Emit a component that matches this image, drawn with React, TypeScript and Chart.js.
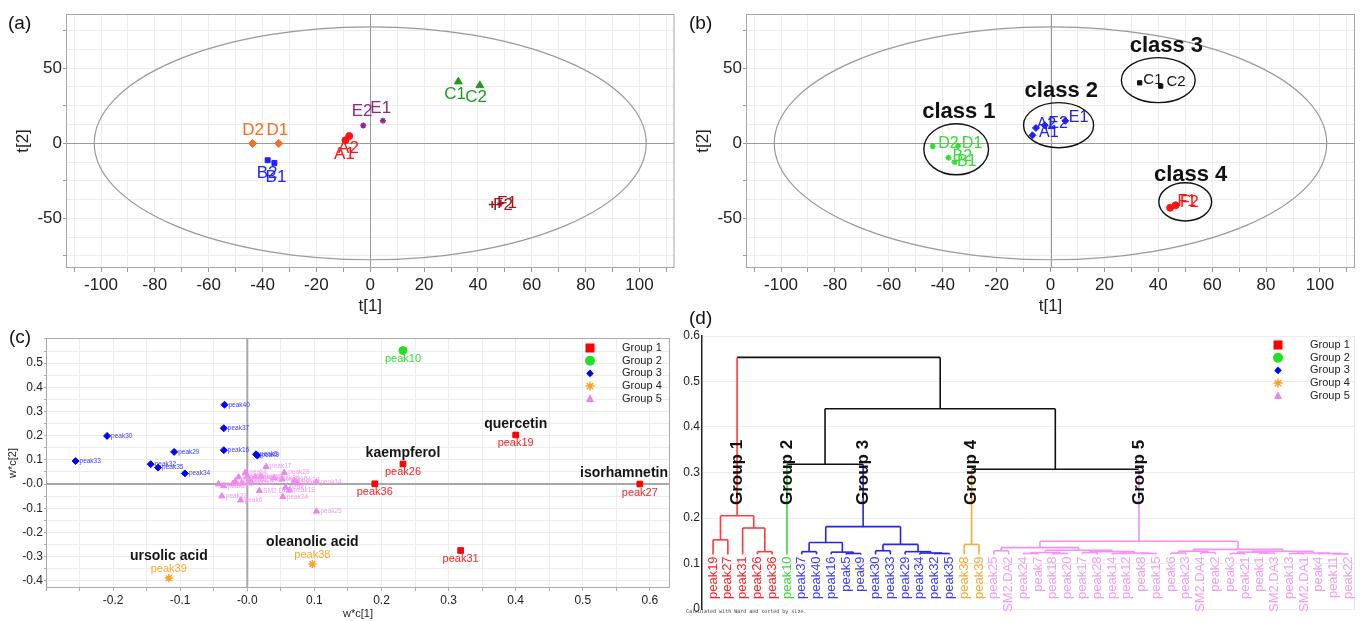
import React, { useEffect, useRef } from 'react';
import { Chart, registerables } from 'chart.js';

Chart.register(...registerables);

const FONT = '"Liberation Sans", Arial, Helvetica, sans-serif';

/* ---------------- (a) PCA scores ---------------- */
const A_NAMES = ['A1', 'A2', 'B1', 'B2', 'C1', 'C2', 'D1', 'D2', 'E1', 'E2', 'F1', 'F2'];
const A_T1 = [-9.2, -7.8, -35.6, -38.1, 32.7, 40.7, -34.0, -43.7, 4.7, -2.6, 48.5, 45.3];
const A_T2 = [2.0, 4.8, -13.1, -11.3, 41.0, 38.5, -0.1, -0.1, 15.0, 11.8, -40.0, -40.7];
const A_LABEL_T1 = [-9.6, -8.1, -35.0, -38.3, 31.5, 39.3, -34.5, -43.5, 3.9, -3.0, 50.8, 49.3];
const A_LABEL_T2 = [-7.3, -3.1, -22.4, -20.2, 32.4, 30.4, 8.7, 8.7, 23.5, 21.0, -40.0, -41.2];

/* ---------------- (b) PCA scores with classes ---------------- */
const B_NAMES = ['D2', 'D1', 'B2', 'B1', 'A1', 'A2', 'E2', 'E1', 'C1', 'C2', 'F1', 'F2'];
const B_CLASS = [1, 1, 1, 1, 2, 2, 2, 2, 3, 3, 4, 4];
const B_T1 = [-43.7, -34.3, -37.9, -35.6, -6.7, -5.4, -2.1, 5.5, 33.1, 40.9, 44.4, 46.4];
const B_T2 = [-2.0, -1.8, -9.6, -12.5, 5.3, 10.2, 12.0, 14.9, 40.2, 38.0, -42.9, -41.3];
const B_LABEL_T1 = [-37.9, -29.1, -32.7, -31.1, -0.6, -1.5, 2.8, 10.4, 38.0, 46.6, 50.6, 51.5];
const B_LABEL_T2 = [-0.5, -0.5, -9.0, -12.2, 7.0, 12.5, 13.0, 17.1, 42.0, 40.9, -38.5, -39.8];
const CLASS_NAMES = ['class 1', 'class 2', 'class 3', 'class 4'];
const CLASS_CENTER_T1 = [-35, 3, 40, 50];
const CLASS_CENTER_T2 = [-4, 12, 42, -39];
const CLASS_RADIUS_T1 = [12, 13, 13.7, 9.8];
const CLASS_RADIUS_T2 = [17, 15, 15, 12.7];
const CLASS_LABEL_T1 = [-34, 4, 43, 52];
const CLASS_LABEL_T2 = [21, 35, 65, -21];

const SCORE_T1_TICKS = [-100, -80, -60, -40, -20, 0, 20, 40, 60, 80, 100];
const SCORE_T2_TICKS = [-50, 0, 50];
const ELLIPSE_T1 = 102.5;
const ELLIPSE_T2 = 77.5;

/* ---------------- (c) loadings ---------------- */
const G1_NAMES = ['peak19', 'peak26', 'peak36', 'peak27', 'peak31'];
const G1_X = [0.40, 0.232, 0.19, 0.585, 0.318];
const G1_Y = [0.203, 0.083, 0.001, 0.0, -0.275];
const G2_NAMES = ['peak10'];
const G2_X = [0.232];
const G2_Y = [0.552];
const G3_NAMES = ['peak40', 'peak37', 'peak16', 'peak9', 'peak5', 'peak30', 'peak29', 'peak33', 'peak32', 'peak35', 'peak34'];
const G3_X = [-0.034, -0.035, -0.035, 0.015, 0.013, -0.209, -0.109, -0.256, -0.144, -0.133, -0.093];
const G3_Y = [0.328, 0.231, 0.14, 0.118, 0.123, 0.199, 0.133, 0.095, 0.082, 0.068, 0.044];
const G4_NAMES = ['peak39', 'peak38'];
const G4_X = [-0.117, 0.097];
const G4_Y = [-0.389, -0.331];
const G5_NAMES = ['peak17', 'peak28', 'peak4', 'peak12', 'peak1', 'peak21', 'peak3', 'peak15', 'peak13', 'peak14', 'peak11', 'peak22', 'peak2', 'SM2.DA3', 'SM2.DA1', 'peak7', 'peak18', 'peak24', 'peak23', 'peak6', 'peak25', 'SM2.DA2', 'peak20', 'SM2.DA4', 'peak8'];
const G5_X = [0.028, 0.055, -0.003, -0.013, 0.0, 0.012, 0.02, 0.052, 0.07, 0.103, -0.043, -0.035, -0.022, -0.008, 0.018, 0.057, 0.063, 0.053, -0.038, -0.01, 0.103, 0.005, 0.04, -0.018, 0.075];
const G5_Y = [0.072, 0.047, 0.047, 0.029, 0.032, 0.029, 0.03, 0.02, 0.015, 0.008, 0.0, -0.008, 0.0, 0.004, -0.028, -0.014, -0.025, -0.053, -0.05, -0.067, -0.113, 0.014, 0.026, 0.012, 0.004];
const COMPOUND_NAMES = ['quercetin', 'kaempferol', 'isorhamnetin', 'oleanolic acid', 'ursolic acid'];
const COMPOUND_PEAKS = ['peak19', 'peak26', 'peak27', 'peak38', 'peak39'];
const C_X_TICKS = [-0.2, -0.1, 0, 0.1, 0.2, 0.3, 0.4, 0.5, 0.6];
const C_Y_TICKS = [-0.4, -0.3, -0.2, -0.1, 0, 0.1, 0.2, 0.3, 0.4, 0.5];

/* ---------------- (d) dendrogram ---------------- */
const LEAVES = ['peak19', 'peak27', 'peak31', 'peak26', 'peak36', 'peak10', 'peak37', 'peak40', 'peak16', 'peak5', 'peak9', 'peak30', 'peak33', 'peak29', 'peak34', 'peak32', 'peak35', 'peak38', 'peak39', 'peak25', 'SM2.DA2', 'peak24', 'peak7', 'peak18', 'peak20', 'peak17', 'peak28', 'peak14', 'peak12', 'peak8', 'peak15', 'peak6', 'peak23', 'SM2.DA4', 'peak2', 'peak3', 'peak21', 'peak1', 'SM2.DA3', 'peak13', 'SM2.DA1', 'peak4', 'peak11', 'peak22'];
const LEAF_GROUPS = [1, 1, 1, 1, 1, 2, 3, 3, 3, 3, 3, 3, 3, 3, 3, 3, 3, 4, 4, 5, 5, 5, 5, 5, 5, 5, 5, 5, 5, 5, 5, 5, 5, 5, 5, 5, 5, 5, 5, 5, 5, 5, 5, 5];
const LEAF_HEIGHT = 0.12;
// [child a, child b, height]; children < 44 are leaves, otherwise 44 + merge index
const MERGES: [number, number, number][] = [
  [0, 1, 0.152], [3, 4, 0.126], [2, 45, 0.178], [44, 46, 0.205],
  [6, 7, 0.126], [9, 10, 0.122], [8, 49, 0.125], [48, 50, 0.146],
  [11, 12, 0.128], [15, 16, 0.122], [14, 53, 0.123], [13, 54, 0.126], [52, 55, 0.142], [51, 56, 0.181],
  [17, 18, 0.142],
  [19, 20, 0.128], [21, 22, 0.122], [23, 24, 0.122], [60, 61, 0.124], [25, 26, 0.124], [27, 28, 0.122],
  [29, 30, 0.122], [64, 65, 0.123], [63, 66, 0.126], [62, 67, 0.129], [59, 68, 0.135],
  [31, 32, 0.123], [33, 34, 0.124], [70, 71, 0.127], [35, 36, 0.122], [37, 38, 0.123], [73, 74, 0.125],
  [42, 43, 0.121], [41, 76, 0.122], [39, 40, 0.122], [78, 77, 0.123], [75, 79, 0.127], [72, 80, 0.131],
  [69, 81, 0.149],
  [5, 57, 0.318], [58, 82, 0.307], [83, 84, 0.44], [47, 85, 0.553],
];
const D_Y_TICKS = [0, 0.1, 0.2, 0.3, 0.4, 0.5, 0.6];
const GROUP_NAMES = ['Group 1', 'Group 2', 'Group 3', 'Group 4', 'Group 5'];

/* ---------------- styles ---------------- */
const A_STYLE: Record<string, { color: string; shape: string; r: number }> = {
  A: { color: '#ff1414', shape: 'circle', r: 3.5 },
  B: { color: '#2222ff', shape: 'rect', r: 3.5 },
  C: { color: '#1f9a1f', shape: 'triangle', r: 4.5 },
  D: { color: '#ff6a1f', shape: 'rectRot', r: 4 },
  E: { color: '#93278f', shape: 'star', r: 3 },
  F: { color: '#a3161b', shape: 'cross', r: 3.5 },
};
const CLASS_STYLE = [
  { color: '#33dd33', shape: 'star', r: 3 },
  { color: '#2020ff', shape: 'rectRot', r: 3.5 },
  { color: '#111111', shape: 'rect', r: 3 },
  { color: '#ff1414', shape: 'circle', r: 3.5 },
];
const GROUP_STYLE = [
  { color: '#ff0000', shape: 'rect', r: 4, text: '#ff2020', line: '#ff3a3a' },
  { color: '#22e022', shape: 'circle', r: 4, text: '#33dd33', line: '#33dd33' },
  { color: '#0000ff', shape: 'rectRot', r: 3.5, text: '#3a3aff', line: '#2424ee' },
  { color: '#ffa020', shape: 'star', r: 4, text: '#ffa62b', line: '#ffab33' },
  { color: '#ee82ee', shape: 'triangle', r: 3.5, text: '#f29cf2', line: '#f590f5' },
];

/* ---------------- helpers ---------------- */
const gridValues = (from: number, to: number, step: number) => {
  const out: number[] = [];
  const n = Math.round((to - from) / step);
  for (let i = 0; i <= n; i++) out.push(Math.round((from + i * step) * 10000) / 10000);
  return out;
};
const hasLabel = (labels: number[], v: number) => labels.some((l) => Math.abs(l - v) < 1e-6);

function drawMarker(ctx: CanvasRenderingContext2D, shape: string, x: number, y: number, s: number, color: string) {
  ctx.save();
  ctx.fillStyle = color;
  ctx.strokeStyle = color;
  ctx.beginPath();
  if (shape === 'rect') {
    ctx.fillRect(x - s, y - s, 2 * s, 2 * s);
  } else if (shape === 'circle') {
    ctx.arc(x, y, s, 0, Math.PI * 2);
    ctx.fill();
  } else if (shape === 'rectRot') {
    ctx.moveTo(x, y - s);
    ctx.lineTo(x + s, y);
    ctx.lineTo(x, y + s);
    ctx.lineTo(x - s, y);
    ctx.closePath();
    ctx.fill();
  } else if (shape === 'star') {
    ctx.lineWidth = 1.5;
    for (let k = 0; k < 4; k++) {
      const a = (k * Math.PI) / 4;
      ctx.moveTo(x + Math.cos(a) * s, y + Math.sin(a) * s);
      ctx.lineTo(x - Math.cos(a) * s, y - Math.sin(a) * s);
    }
    ctx.stroke();
  } else if (shape === 'triangle') {
    ctx.moveTo(x, y - s);
    ctx.lineTo(x + s * 0.9, y + s * 0.7);
    ctx.lineTo(x - s * 0.9, y + s * 0.7);
    ctx.closePath();
    ctx.fill();
  }
  ctx.restore();
}

const baseOptions = (padding: any) => ({
  responsive: false,
  animation: false,
  events: [],
  layout: { padding },
  plugins: { legend: { display: false }, tooltip: { enabled: false } },
});

function scoreScales() {
  const tickFont = { family: FONT, size: 17 };
  return {
    x: {
      type: 'linear',
      min: -113,
      max: 113,
      afterBuildTicks: (s: any) => { s.ticks = gridValues(-110, 110, 10).map((value) => ({ value })); },
      afterFit: (s: any) => { s.height = 52; },
      grid: { color: '#ececec', lineWidth: 1, drawTicks: true, tickLength: 4, tickColor: '#999' },
      border: { display: false },
      ticks: {
        autoSkip: false, maxRotation: 0, padding: 3, color: '#222', font: tickFont,
        callback: (v: number) => (hasLabel(SCORE_T1_TICKS, v) ? String(v) : ''),
      },
      title: { display: true, text: 't[1]', color: '#222', font: tickFont, padding: { top: 0, bottom: 3 } },
    },
    y: {
      type: 'linear',
      min: -83,
      max: 86,
      afterBuildTicks: (s: any) => { s.ticks = gridValues(-75, 75, 12.5).map((value) => ({ value })); },
      afterFit: (s: any) => { s.width = 66; },
      grid: {
        color: '#ececec', lineWidth: 1, drawTicks: true, tickLength: 3,
        tickColor: (c: any) => (c.tick && Math.abs(c.tick.value % 25) < 1e-6 ? '#999' : 'rgba(0,0,0,0)'),
      },
      border: { display: false },
      ticks: {
        autoSkip: false, padding: 1, color: '#222', font: tickFont,
        callback: (v: number) => (hasLabel(SCORE_T2_TICKS, v) ? String(v) : ''),
      },
      title: { display: true, text: 't[2]', color: '#222', font: tickFont, padding: { top: 13, bottom: 0 } },
    },
  };
}

const scoreFramePlugin = {
  id: 'scoreFrame',
  beforeDatasetsDraw(chart: any) {
    const { ctx, chartArea: ca, scales } = chart;
    const x = scales.x;
    const y = scales.y;
    const x0 = x.getPixelForValue(0);
    const y0 = y.getPixelForValue(0);
    ctx.save();
    ctx.strokeStyle = '#9a9a9a';
    ctx.lineWidth = 1;
    ctx.beginPath();
    ctx.moveTo(Math.round(x0) + 0.5, ca.top);
    ctx.lineTo(Math.round(x0) + 0.5, ca.bottom);
    ctx.moveTo(ca.left, Math.round(y0) + 0.5);
    ctx.lineTo(ca.right, Math.round(y0) + 0.5);
    ctx.stroke();
    ctx.strokeStyle = '#999';
    ctx.lineWidth = 1.2;
    ctx.beginPath();
    ctx.ellipse(x0, y0, Math.abs(x.getPixelForValue(ELLIPSE_T1) - x0), Math.abs(y.getPixelForValue(ELLIPSE_T2) - y0), 0, 0, Math.PI * 2);
    ctx.stroke();
    ctx.strokeStyle = '#a5a5a5';
    ctx.lineWidth = 1;
    ctx.strokeRect(ca.left + 0.5, ca.top + 0.5, ca.width - 1, ca.height - 1);
    ctx.restore();
  },
};

function textLabelPlugin(id: string, names: string[], lx: number[], ly: number[], colorOf: (i: number) => string, fontOf: (i: number) => string) {
  return {
    id,
    afterDatasetsDraw(chart: any) {
      const { ctx, scales } = chart;
      ctx.save();
      ctx.textAlign = 'center';
      ctx.textBaseline = 'middle';
      names.forEach((n, i) => {
        ctx.font = fontOf(i);
        ctx.fillStyle = colorOf(i);
        ctx.fillText(n, scales.x.getPixelForValue(lx[i]), scales.y.getPixelForValue(ly[i]));
      });
      ctx.restore();
    },
  };
}

/* ---------------- configs ---------------- */
function configA(): any {
  const letters = ['A', 'B', 'C', 'D', 'E', 'F'];
  return {
    type: 'scatter',
    data: {
      datasets: letters.map((g) => {
        const idx = A_NAMES.map((n, i) => (n[0] === g ? i : -1)).filter((i) => i >= 0);
        const st = A_STYLE[g];
        return {
          label: g,
          data: idx.map((i) => ({ x: A_T1[i], y: A_T2[i] })),
          pointStyle: st.shape,
          pointRadius: st.r,
          backgroundColor: st.color,
          borderColor: st.color,
          borderWidth: st.shape === 'star' || st.shape === 'cross' ? 1.5 : 1,
        };
      }),
    },
    options: { ...baseOptions({ left: 0, right: 5, top: 14, bottom: 0 }), scales: scoreScales() },
    plugins: [
      scoreFramePlugin,
      textLabelPlugin('aLabels', A_NAMES, A_LABEL_T1, A_LABEL_T2, (i) => A_STYLE[A_NAMES[i][0]].color, () => `17px ${FONT}`),
    ],
  };
}

function configB(): any {
  const classPlugin = {
    id: 'classes',
    afterDatasetsDraw(chart: any) {
      const { ctx, scales } = chart;
      const x = scales.x;
      const y = scales.y;
      ctx.save();
      ctx.strokeStyle = '#111';
      ctx.lineWidth = 1.4;
      CLASS_NAMES.forEach((name, k) => {
        const cx = x.getPixelForValue(CLASS_CENTER_T1[k]);
        const cy = y.getPixelForValue(CLASS_CENTER_T2[k]);
        const rx = Math.abs(x.getPixelForValue(CLASS_CENTER_T1[k] + CLASS_RADIUS_T1[k]) - cx);
        const ry = Math.abs(y.getPixelForValue(CLASS_CENTER_T2[k] + CLASS_RADIUS_T2[k]) - cy);
        ctx.beginPath();
        ctx.ellipse(cx, cy, rx, ry, 0, 0, Math.PI * 2);
        ctx.stroke();
        ctx.font = `bold 22px ${FONT}`;
        ctx.fillStyle = '#111';
        ctx.textAlign = 'center';
        ctx.textBaseline = 'middle';
        ctx.fillText(name, x.getPixelForValue(CLASS_LABEL_T1[k]), y.getPixelForValue(CLASS_LABEL_T2[k]));
      });
      ctx.restore();
    },
  };
  return {
    type: 'scatter',
    data: {
      datasets: [1, 2, 3, 4].map((c) => {
        const idx = B_CLASS.map((k, i) => (k === c ? i : -1)).filter((i) => i >= 0);
        const st = CLASS_STYLE[c - 1];
        return {
          label: CLASS_NAMES[c - 1],
          data: idx.map((i) => ({ x: B_T1[i], y: B_T2[i] })),
          pointStyle: st.shape,
          pointRadius: st.r,
          backgroundColor: st.color,
          borderColor: st.color,
          borderWidth: st.shape === 'star' ? 1.5 : 1,
        };
      }),
    },
    options: { ...baseOptions({ left: 0, right: 7, top: 14, bottom: 0 }), scales: scoreScales() },
    plugins: [
      scoreFramePlugin,
      textLabelPlugin('bLabels', B_NAMES, B_LABEL_T1, B_LABEL_T2, (i) => CLASS_STYLE[B_CLASS[i] - 1].color,
        (i) => (B_CLASS[i] === 3 ? `15px ${FONT}` : `16px ${FONT}`)),
      classPlugin,
    ],
  };
}

const C_GROUPS = [
  { names: G1_NAMES, xs: G1_X, ys: G1_Y },
  { names: G2_NAMES, xs: G2_X, ys: G2_Y },
  { names: G3_NAMES, xs: G3_X, ys: G3_Y },
  { names: G4_NAMES, xs: G4_X, ys: G4_Y },
  { names: G5_NAMES, xs: G5_X, ys: G5_Y },
];

function drawLegend(ctx: CanvasRenderingContext2D, markerX: number, textX: number, top: number, gap: number) {
  ctx.save();
  ctx.font = `11px ${FONT}`;
  ctx.fillStyle = '#222';
  ctx.textAlign = 'left';
  ctx.textBaseline = 'middle';
  GROUP_NAMES.forEach((name, k) => {
    const yy = top + k * gap;
    const st = GROUP_STYLE[k];
    const size = k === 0 ? 4.5 : k === 1 ? 5 : k === 2 ? 3.8 : 4.5;
    drawMarker(ctx, st.shape, markerX, yy, size, st.color);
    ctx.fillText(name, textX, yy);
  });
  ctx.restore();
}

function configC(): any {
  const decoPlugin = {
    id: 'cDeco',
    beforeDatasetsDraw(chart: any) {
      const { ctx, chartArea: ca, scales } = chart;
      const x0 = scales.x.getPixelForValue(0);
      const y0 = scales.y.getPixelForValue(0);
      ctx.save();
      ctx.strokeStyle = '#a8a8a8';
      ctx.lineWidth = 2;
      ctx.beginPath();
      ctx.moveTo(x0, ca.top);
      ctx.lineTo(x0, ca.bottom);
      ctx.moveTo(ca.left, y0);
      ctx.lineTo(ca.right, y0);
      ctx.stroke();
      ctx.strokeStyle = '#aaa';
      ctx.lineWidth = 1;
      ctx.strokeRect(ca.left + 0.5, ca.top + 0.5, ca.width - 1, ca.height - 1);
      ctx.restore();
    },
    afterDatasetsDraw(chart: any) {
      const { ctx, chartArea: ca, scales } = chart;
      const px = (v: number) => scales.x.getPixelForValue(v);
      const py = (v: number) => scales.y.getPixelForValue(v);
      ctx.save();
      // small labels (groups 3 and 5)
      ctx.font = `6.5px ${FONT}`;
      ctx.textAlign = 'left';
      ctx.textBaseline = 'middle';
      [2, 4].forEach((g) => {
        const G = C_GROUPS[g];
        ctx.fillStyle = GROUP_STYLE[g].text;
        G.names.forEach((n, i) => ctx.fillText(n, px(G.xs[i]) + 4, py(G.ys[i])));
      });
      // big peak labels
      ctx.font = `11px ${FONT}`;
      ctx.textAlign = 'center';
      const peakPos: Record<string, { x: number; y: number; g: number }> = {};
      [0, 1, 3].forEach((g) => {
        const G = C_GROUPS[g];
        ctx.fillStyle = GROUP_STYLE[g].text;
        G.names.forEach((n, i) => {
          const X = px(G.xs[i]);
          const Y = py(G.ys[i]);
          peakPos[n] = { x: X, y: Y, g };
          if (g === 3) {
            ctx.textBaseline = 'bottom';
            ctx.fillText(n, X, Y - 4);
          } else {
            ctx.textBaseline = 'top';
            ctx.fillText(n, X, Y + 3);
          }
        });
      });
      // compound names
      ctx.font = `bold 14px ${FONT}`;
      ctx.fillStyle = '#151515';
      ctx.textBaseline = 'bottom';
      COMPOUND_NAMES.forEach((name, k) => {
        const p = peakPos[COMPOUND_PEAKS[k]];
        if (!p) return;
        const w = ctx.measureText(name).width;
        let cx = p.x;
        if (cx + w / 2 > ca.right - 2) cx = ca.right - 2 - w / 2;
        ctx.fillText(name, cx, p.g === 3 ? p.y - 15 : p.y - 4);
      });
      ctx.restore();
      drawLegend(ctx, ca.right - 80, ca.right - 48, ca.top + 10, 12.7);
    },
  };
  const tickFont = { family: FONT, size: 12 };
  return {
    type: 'scatter',
    data: {
      datasets: C_GROUPS.map((G, g) => {
        const st = GROUP_STYLE[g];
        return {
          label: GROUP_NAMES[g],
          data: G.names.map((_, i) => ({ x: G.xs[i], y: G.ys[i] })),
          pointStyle: st.shape,
          pointRadius: st.r,
          backgroundColor: st.color,
          borderColor: st.color,
          borderWidth: st.shape === 'star' ? 1.5 : 1,
        };
      }),
    },
    options: {
      ...baseOptions({ left: 0, right: 10, top: 18, bottom: 0 }),
      scales: {
        x: {
          type: 'linear', min: -0.3, max: 0.63,
          afterBuildTicks: (s: any) => { s.ticks = gridValues(-0.3, 0.6, 0.05).map((value) => ({ value })); },
          afterFit: (s: any) => { s.height = 33; },
          grid: { color: '#ececec', tickLength: 3, tickColor: '#aaa' },
          border: { display: false },
          ticks: {
            autoSkip: false, maxRotation: 0, padding: 2, color: '#222', font: tickFont,
            callback: (v: number) => (hasLabel(C_X_TICKS, v) ? (Math.abs(v) < 1e-9 ? '-0.0' : v.toFixed(1)) : ''),
          },
          title: { display: true, text: 'w*c[1]', color: '#222', font: { family: FONT, size: 11 }, padding: { top: 0, bottom: 0 } },
        },
        y: {
          type: 'linear', min: -0.43, max: 0.604,
          afterBuildTicks: (s: any) => { s.ticks = gridValues(-0.4, 0.6, 0.05).map((value) => ({ value })); },
          afterFit: (s: any) => { s.width = 46; },
          grid: { color: '#ececec', tickLength: 2, tickColor: '#aaa' },
          border: { display: false },
          ticks: {
            autoSkip: false, padding: 1, color: '#222', font: tickFont,
            callback: (v: number) => (hasLabel(C_Y_TICKS, v) ? (Math.abs(v) < 1e-9 ? '-0.0' : v.toFixed(1)) : ''),
          },
          title: { display: true, text: 'w*c[2]', color: '#222', font: { family: FONT, size: 11 }, padding: { top: 6, bottom: 0 } },
        },
      },
    },
    plugins: [decoPlugin],
  };
}

function configD(): any {
  const N = LEAVES.length;
  const nodeX: number[] = LEAVES.map((_, i) => i);
  const nodeH: number[] = LEAVES.map(() => LEAF_HEIGHT);
  const nodeG: number[] = LEAF_GROUPS.slice();
  MERGES.forEach(([a, b, h]) => {
    nodeX.push((nodeX[a] + nodeX[b]) / 2);
    nodeH.push(h);
    nodeG.push(nodeG[a] === nodeG[b] ? nodeG[a] : 0);
  });
  const colorOf = (id: number) => (nodeG[id] ? GROUP_STYLE[nodeG[id] - 1].line : '#111');
  const segments: any[] = [];
  MERGES.forEach(([a, b, h], k) => {
    const id = N + k;
    segments.push({ pts: [{ x: nodeX[a], y: nodeH[a] }, { x: nodeX[a], y: h }], color: colorOf(a) });
    segments.push({ pts: [{ x: nodeX[b], y: nodeH[b] }, { x: nodeX[b], y: h }], color: colorOf(b) });
    segments.push({ pts: [{ x: nodeX[a], y: h }, { x: nodeX[b], y: h }], color: colorOf(id) });
  });
  // stem of each group = highest node belonging to it
  const groupStem = [1, 2, 3, 4, 5].map((g) => {
    let best = -1;
    nodeG.forEach((ng, id) => { if (ng === g && (best < 0 || nodeH[id] > nodeH[best])) best = id; });
    return nodeX[best];
  });

  const textPlugin = {
    id: 'dText',
    beforeDatasetsDraw(chart: any) {
      const { ctx, chartArea: ca } = chart;
      ctx.save();
      ctx.strokeStyle = '#e2e2e2';
      ctx.lineWidth = 1;
      ctx.beginPath();
      ctx.moveTo(ca.right - 0.5, ca.top);
      ctx.lineTo(ca.right - 0.5, ca.bottom);
      ctx.stroke();
      ctx.restore();
    },
    afterDatasetsDraw(chart: any) {
      const { ctx, chartArea: ca, scales } = chart;
      const px = (v: number) => scales.x.getPixelForValue(v);
      const py = (v: number) => scales.y.getPixelForValue(v);
      ctx.save();
      ctx.font = `13px ${FONT}`;
      ctx.textAlign = 'right';
      ctx.textBaseline = 'middle';
      LEAVES.forEach((n, i) => {
        ctx.save();
        ctx.translate(px(i), py(LEAF_HEIGHT) + 2);
        ctx.rotate(-Math.PI / 2);
        ctx.fillStyle = GROUP_STYLE[LEAF_GROUPS[i] - 1].text;
        ctx.fillText(n, 0, 0);
        ctx.restore();
      });
      ctx.font = `bold 17px ${FONT}`;
      ctx.textAlign = 'center';
      ctx.fillStyle = '#111';
      GROUP_NAMES.forEach((n, k) => {
        ctx.save();
        ctx.translate(px(groupStem[k]), py(0.3));
        ctx.rotate(-Math.PI / 2);
        ctx.fillText(n, 0, 0);
        ctx.restore();
      });
      ctx.font = '5px "DejaVu Sans Mono", monospace';
      ctx.textAlign = 'left';
      ctx.fillStyle = '#333';
      ctx.fillText('Calculated with Ward and sorted by size.', 6, ca.bottom + 3);
      ctx.restore();
      drawLegend(ctx, ca.right - 77, ca.right - 45, ca.top + 9, 12.7);
    },
  };

  return {
    type: 'scatter',
    data: {
      datasets: segments.map((s) => ({
        data: s.pts,
        showLine: true,
        pointRadius: 0,
        borderColor: s.color,
        borderWidth: 1.6,
        fill: false,
      })),
    },
    options: {
      ...baseOptions({ left: 0, right: 7, top: 16, bottom: 12 }),
      scales: {
        x: { type: 'linear', min: -0.75, max: 43.45, display: false },
        y: {
          type: 'linear', min: 0, max: 0.6,
          afterBuildTicks: (s: any) => { s.ticks = D_Y_TICKS.map((value) => ({ value })); },
          afterFit: (s: any) => { s.width = 22; },
          grid: { color: '#ededed', drawTicks: false },
          border: { display: true, color: '#222', width: 1.5 },
          ticks: {
            autoSkip: false, padding: 2, color: '#222', font: { family: FONT, size: 12 },
            callback: (v: number) => (Math.abs(v) < 1e-9 ? '0' : v.toFixed(1)),
          },
        },
      },
    },
    plugins: [textPlugin],
  };
}

const panelLabel = (text: string, left: number, top: number) => (
  <div style={{ position: 'absolute', left, top, font: `19px ${FONT}`, lineHeight: '22px', color: '#111' }}>{text}</div>
);

export default function App() {
  const refA = useRef<HTMLCanvasElement>(null);
  const refB = useRef<HTMLCanvasElement>(null);
  const refC = useRef<HTMLCanvasElement>(null);
  const refD = useRef<HTMLCanvasElement>(null);

  useEffect(() => {
    const charts = [
      new Chart(refA.current as HTMLCanvasElement, configA()),
      new Chart(refB.current as HTMLCanvasElement, configB()),
      new Chart(refC.current as HTMLCanvasElement, configC()),
      new Chart(refD.current as HTMLCanvasElement, configD()),
    ];
    return () => charts.forEach((c) => c.destroy());
  }, []);

  return (
    <div style={{ position: 'absolute', left: 0, top: 0, width: 1362, height: 621, background: '#fff', overflow: 'hidden' }}>
      <canvas ref={refA} width={680} height={320} style={{ position: 'absolute', left: 0, top: 0 }} />
      <canvas ref={refB} width={682} height={320} style={{ position: 'absolute', left: 680, top: 0 }} />
      <canvas ref={refC} width={680} height={301} style={{ position: 'absolute', left: 0, top: 320 }} />
      <canvas ref={refD} width={682} height={301} style={{ position: 'absolute', left: 680, top: 320 }} />
      {panelLabel('(a)', 8, 12)}
      {panelLabel('(b)', 689, 12)}
      {panelLabel('(c)', 9, 326)}
      {panelLabel('(d)', 689, 307)}
    </div>
  );
}
